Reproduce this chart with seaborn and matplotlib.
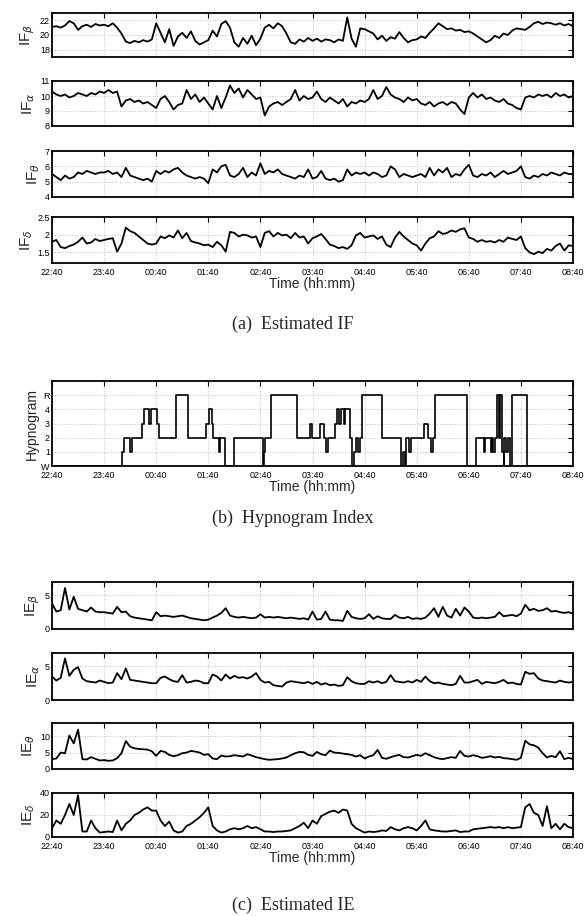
import numpy as np
import pandas as pd
import matplotlib
matplotlib.use("Agg")
import matplotlib.pyplot as plt
import seaborn as sns

# ---------------- data ----------------
time_labels = ["22:40", "23:40", "00:40", "01:40", "02:40", "03:40",
               "04:40", "05:40", "06:40", "07:40", "08:40"]
sample_step_min = 5  # one value every 5 minutes, 22:40 -> 08:40

if_beta = [21.1, 21.2, 21.0, 21.3, 21.9, 21.6, 20.7, 21.2, 21.4, 21.1, 21.5, 21.3,
           21.4, 21.2, 21.6, 21.0, 20.2, 19.1, 18.9, 19.2, 19.0, 19.3, 19.1, 19.4,
           21.6, 20.3, 19.0, 20.8, 18.5, 19.8, 20.3, 19.6, 20.5, 19.2, 18.7, 19.0,
           19.3, 20.6, 19.8, 21.5, 21.9, 21.0, 19.0, 18.4, 19.6, 18.8, 19.9, 18.6,
           19.5, 21.0, 21.4, 20.9, 21.6, 21.2, 20.2, 19.0, 18.8, 19.4, 19.1, 19.6,
           19.2, 19.5, 19.1, 19.4, 19.3, 19.0, 19.4, 19.2, 22.4, 19.5, 18.4, 20.9,
           20.8, 20.5, 20.2, 19.4, 19.9, 19.2, 19.7, 19.5, 20.4, 19.6, 19.0, 19.3,
           19.4, 19.8, 19.6, 20.3, 20.9, 21.6, 21.2, 20.8, 20.9, 20.6, 20.7, 20.4,
           20.5, 20.2, 19.8, 19.4, 19.0, 19.3, 19.9, 19.6, 20.2, 20.0, 20.6, 20.9,
           20.8, 20.7, 21.1, 21.6, 21.8, 21.5, 21.7, 21.6, 21.4, 21.6, 21.3, 21.5,
           21.2]

if_alpha = [10.3, 10.1, 10.0, 10.1, 9.9, 10.0, 10.2, 10.1, 10.0, 10.2, 10.1, 10.3,
            10.2, 10.4, 10.2, 10.3, 9.3, 9.7, 9.8, 9.6, 9.7, 9.5, 9.6, 9.4,
            9.2, 9.8, 10.0, 9.6, 9.1, 9.4, 9.5, 10.4, 9.8, 10.1, 9.6, 9.9,
            9.5, 9.1, 10.0, 9.2, 9.9, 10.7, 10.2, 10.5, 9.9, 10.4, 10.1, 9.8,
            9.9, 8.7, 9.3, 9.5, 9.6, 9.4, 9.6, 9.8, 10.4, 9.7, 10.0, 9.8,
            9.9, 10.3, 9.8, 9.6, 9.9, 9.7, 9.5, 9.8, 9.3, 9.6, 9.5, 9.7,
            9.6, 9.8, 10.4, 9.8, 10.0, 10.6, 10.1, 9.9, 9.8, 9.6, 9.9, 9.7,
            9.8, 9.5, 9.4, 9.6, 9.3, 9.5, 9.6, 9.4, 9.6, 9.5, 9.1, 8.8,
            9.9, 10.2, 9.9, 10.1, 9.8, 9.9, 9.7, 9.6, 9.8, 9.5, 9.4, 9.2,
            9.1, 9.9, 10.0, 9.9, 10.1, 10.0, 10.1, 9.9, 10.2, 10.0, 10.1, 9.9,
            10.0]

if_theta = [5.5, 5.3, 5.1, 5.4, 5.2, 5.3, 5.6, 5.5, 5.7, 5.6, 5.5, 5.6,
            5.6, 5.7, 5.5, 5.6, 5.3, 5.9, 5.4, 5.3, 5.2, 5.1, 5.2, 5.0,
            5.7, 5.5, 5.7, 5.6, 5.8, 5.9, 5.6, 5.4, 5.3, 5.2, 5.3, 5.2,
            4.9, 5.8, 5.6, 6.0, 6.1, 5.4, 5.3, 5.5, 5.9, 5.3, 5.6, 5.4,
            6.2, 5.5, 5.7, 5.6, 5.8, 5.5, 5.4, 5.3, 5.2, 5.4, 5.3, 5.8,
            5.2, 5.3, 5.7, 5.2, 5.1, 5.2, 5.0, 5.1, 5.8, 5.4, 5.6, 5.5,
            5.6, 5.4, 5.6, 5.5, 5.3, 5.4, 6.0, 5.8, 5.3, 5.5, 5.4, 5.3,
            5.4, 5.5, 5.3, 5.9, 5.4, 5.8, 5.6, 5.9, 5.3, 5.5, 5.4, 5.8,
            6.1, 5.4, 5.3, 5.5, 5.4, 5.6, 5.3, 5.5, 5.7, 5.5, 5.6, 5.7,
            6.0, 5.3, 5.2, 5.4, 5.3, 5.5, 5.4, 5.6, 5.5, 5.4, 5.6, 5.5,
            5.5]

if_delta = [1.80, 1.85, 1.65, 1.62, 1.68, 1.72, 1.80, 1.92, 1.75, 1.78, 1.88, 1.82,
            1.85, 1.88, 1.90, 1.52, 1.75, 2.20, 2.10, 2.05, 1.95, 1.85, 1.75, 1.72,
            1.75, 1.95, 1.90, 1.98, 1.92, 2.12, 1.90, 2.05, 1.82, 1.78, 1.75, 1.70,
            1.72, 1.65, 1.80, 1.70, 1.52, 2.08, 2.05, 1.95, 2.00, 1.98, 1.92, 1.95,
            1.65, 2.05, 2.10, 1.95, 2.05, 1.98, 2.00, 1.90, 2.05, 1.92, 1.95, 1.75,
            1.90, 1.95, 2.02, 1.88, 1.72, 1.68, 1.62, 1.65, 1.60, 1.70, 1.98, 2.05,
            1.92, 1.95, 1.98, 1.88, 1.95, 1.72, 1.65, 1.92, 2.08, 1.95, 1.85, 1.75,
            1.70, 1.55, 1.75, 1.90, 1.95, 2.10, 2.02, 2.05, 2.12, 2.08, 2.15, 2.18,
            1.92, 1.88, 1.80, 1.85, 1.80, 1.82, 1.78, 1.85, 1.80, 1.92, 1.88, 1.85,
            1.95, 1.62, 1.50, 1.45, 1.52, 1.48, 1.60, 1.55, 1.68, 1.75, 1.55, 1.70,
            1.68]

ie_beta = [3.8, 2.6, 2.8, 6.1, 2.9, 4.8, 3.0, 2.8, 2.6, 3.2, 2.6, 2.5,
           2.5, 2.4, 2.3, 3.3, 2.5, 2.6, 1.9, 1.7, 1.6, 1.5, 1.4, 1.3,
           2.5, 1.9, 2.0, 1.9, 1.8, 1.9, 2.0, 1.8, 1.6, 1.5, 1.4, 1.3,
           1.4, 1.7, 2.0, 2.4, 3.1, 2.0, 1.8, 1.7, 1.8, 1.7, 1.6, 1.7,
           2.2, 1.7, 1.8, 1.7, 1.8, 1.7, 1.6, 1.7, 1.6, 1.5, 1.6, 1.4,
           2.6, 1.4, 1.5, 2.6, 1.4, 1.3, 1.3, 1.2, 2.7, 1.8, 1.6, 1.5,
           1.6, 2.2, 1.5, 1.9, 1.6, 1.5, 1.5, 2.1, 1.7, 1.6, 1.8, 1.5,
           1.6, 1.5, 1.7, 2.3, 3.1, 1.8, 3.3, 2.0, 1.7, 3.0, 2.0, 3.2,
           2.6, 1.7, 1.6, 1.7, 1.6, 1.7, 1.8, 2.5, 1.9, 2.0, 2.1, 1.9,
           2.3, 3.6, 2.8, 3.0, 2.7, 2.8, 3.1, 2.6, 2.7, 2.5, 2.4, 2.5,
           2.3]

ie_alpha = [3.5, 2.9, 3.3, 6.2, 3.6, 4.5, 4.9, 3.2, 2.8, 2.7, 2.6, 2.9,
            2.7, 2.5, 2.6, 4.0, 3.1, 4.7, 3.0, 2.9, 2.8, 2.7, 2.6, 2.5,
            2.5, 3.3, 3.5, 3.1, 2.8, 2.7, 3.7, 2.6, 2.7, 2.9, 2.8, 2.5,
            2.5, 3.8, 3.5, 2.9, 3.8, 3.2, 3.6, 3.3, 3.4, 3.2, 3.5, 4.0,
            3.0, 2.6, 2.7, 2.2, 2.1, 2.0, 2.6, 2.8, 2.7, 2.6, 2.5, 2.7,
            2.4, 2.7, 2.3, 2.5, 2.2, 2.3, 2.1, 2.2, 3.4, 2.8, 2.5, 2.4,
            2.4, 2.8, 2.6, 2.8, 2.5, 2.7, 3.7, 2.8, 2.7, 2.6, 2.8, 2.6,
            3.0, 2.7, 3.5, 2.8, 2.5, 2.6, 2.4, 2.3, 2.2, 2.4, 3.6, 2.6,
            2.6, 2.8, 3.0, 2.4, 2.7, 2.6, 2.5, 2.7, 3.0, 2.5, 2.6, 2.4,
            2.3, 4.2, 3.9, 4.0, 3.2, 2.9, 2.8, 2.7, 2.6, 2.9, 2.7, 2.6,
            2.7]

ie_theta = [3.0, 3.2, 5.0, 4.8, 10.2, 7.8, 12.0, 3.0, 2.9, 3.6, 3.1, 2.6,
            2.7, 2.5, 2.6, 3.3, 4.8, 8.5, 6.8, 6.3, 6.1, 6.0, 5.9, 5.4,
            4.0, 5.5, 5.2, 4.3, 3.9, 4.2, 4.8, 5.0, 5.5, 5.3, 5.0, 4.3,
            4.5, 3.2, 3.0, 4.1, 3.8, 3.9, 4.2, 4.0, 3.8, 4.5, 4.1, 3.6,
            3.3, 3.0, 2.8, 2.9, 3.0, 3.2, 3.5, 4.2, 4.8, 5.2, 5.1, 4.3,
            4.0, 5.2, 4.5, 4.2, 5.6, 5.0, 4.9, 4.7, 4.5, 4.3, 3.8, 4.2,
            3.2, 3.8, 4.2, 5.8, 3.4, 3.1, 3.6, 4.0, 4.3, 3.6, 3.5, 3.9,
            4.3, 4.0, 4.8, 4.2, 3.6, 3.2, 3.0, 3.3, 3.6, 3.4, 5.5, 4.0,
            3.8, 4.2, 3.9, 3.4, 3.6, 3.9, 3.5, 3.7, 3.3, 3.2, 3.0, 2.8,
            3.4, 8.6, 7.5, 7.2, 6.5, 4.8, 3.5, 4.0, 3.6, 5.4, 3.0, 3.4,
            3.0]

ie_delta = [8, 15, 12, 20, 30, 20, 38, 5, 5, 15, 8, 4,
            4.5, 5, 4.5, 15, 6, 12, 15, 20, 22, 25, 27, 24,
            24, 15, 10, 14, 6, 4, 5, 10, 12, 15, 18, 22,
            27, 10, 6, 4, 5, 7, 8, 7, 8, 10, 8, 9,
            7, 5, 5, 4.5, 5, 5, 5.5, 6, 8, 10, 13, 8,
            15, 12, 19, 21, 23, 24, 22, 25, 24, 12, 8, 6,
            4, 5, 4.5, 5, 6, 5.5, 9, 7, 6, 8, 9, 8,
            6, 10, 15, 7, 6, 5.5, 5, 5, 5.5, 6, 4.5, 5,
            5, 7, 7.5, 8, 8.5, 9, 8.5, 9, 8, 9, 8, 8.5,
            9, 27, 30, 22, 20, 10, 28, 8, 12, 7, 12, 9,
            8]

# hypnogram: minute (from 22:40) at which a stage starts, and that stage (0=W,...,5=R)
hyp_change_min = [0, 81, 83, 90, 92, 104, 106, 112, 114, 121, 123, 143, 157, 177, 181,
                  184, 185, 192, 194, 199, 210, 243, 244, 245, 252, 282, 297, 299, 309,
                  313, 316, 318, 326, 328, 331, 333, 336, 338, 343, 345, 348, 350, 352,
                  355, 357, 380, 402, 404, 406, 408, 411, 413, 428, 433, 437, 439, 441,
                  478, 488, 497, 499, 505, 507, 508, 510, 513, 515, 516, 518, 520, 521,
                  523, 525, 527, 530, 547, 600]
hyp_stage = [0, 1, 2, 1, 2, 3, 4, 3, 4, 3, 2, 5, 2, 3, 4,
             3, 2, 1, 2, 0, 2, 0, 1, 2, 5, 2, 3, 2, 3,
             2, 1, 2, 3, 4, 3, 4, 3, 4, 2, 0, 1, 2, 1,
             2, 5, 2, 0, 1, 0, 2, 1, 2, 3, 2, 1, 2, 5,
             0, 2, 1, 2, 1, 2, 1, 2, 5, 2, 5, 1, 0, 2,
             1, 2, 0, 5, 0, 0]
hyp_tick_labels = ["W", "1", "2", "3", "4", "R"]

# ---------------- style ----------------
sns.set_theme(style="white")
plt.rcParams["font.family"] = ["Liberation Sans", "DejaVu Sans"]
plt.rcParams["mathtext.fontset"] = "custom"
plt.rcParams["mathtext.rm"] = "Liberation Sans"
plt.rcParams["mathtext.it"] = "DejaVu Sans:italic"

fig = plt.figure(figsize=(5.86, 9.16), dpi=100)
W, H = 586.0, 916.0
x0, x1 = 52, 573


def make_ax(top, bottom):
    return fig.add_axes([x0 / W, 1 - bottom / H, (x1 - x0) / W, (bottom - top) / H])


minutes = np.arange(len(if_beta)) * sample_step_min
xt = np.arange(0, 601, 60)


def style_ax(ax, ylim, yticks, yticklabels=None, show_x=False):
    ax.set_xlim(0, 600)
    ax.set_ylim(*ylim)
    ax.set_xticks(xt)
    ax.set_yticks(yticks)
    if yticklabels is not None:
        ax.set_yticklabels(yticklabels)
    if show_x:
        ax.set_xticklabels(time_labels)
    else:
        ax.set_xticklabels([])
    ax.grid(True, linestyle=(0, (1, 2)), color="#b0b0b0", linewidth=0.6)
    ax.tick_params(direction="in", length=3.5, width=0.8, top=True, right=True,
                   labelsize=6.5, colors="black")
    ax.tick_params(axis="y", pad=1.5)
    ax.tick_params(axis="x", pad=3.5)
    for s in ax.spines.values():
        s.set_color("black")
        s.set_linewidth(1.3)
    ax.set_xlabel("")


def series_panel(top, bottom, vals, label, ylim, yticks, show_x=False):
    ax = make_ax(top, bottom)
    df = pd.DataFrame({"minute": minutes, "value": vals})
    sns.lineplot(data=df, x="minute", y="value", ax=ax, color="black", linewidth=1.3)
    style_ax(ax, ylim, yticks, show_x=show_x)
    ax.set_ylabel(label, fontsize=11, labelpad=2)
    return ax


# IF panels
series_panel(13, 57, if_beta, r"IF$_{\beta}$", (17, 23), [18, 20, 22])
series_panel(81, 126, if_alpha, r"IF$_{\alpha}$", (8, 11), [8, 9, 10, 11])
series_panel(151, 197, if_theta, r"IF$_{\theta}$", (4, 7), [4, 5, 6, 7])
ax = series_panel(217, 263, if_delta, r"IF$_{\delta}$", (1.2, 2.5), [1.5, 2, 2.5], show_x=True)
ax.set_yticklabels(["1.5", "2", "2.5"])
ax.set_xlabel("Time (hh:mm)", fontsize=10, labelpad=0)

fig.text(0.5, 1 - 324 / H, "(a)  Estimated IF", ha="center", va="center",
         fontsize=13, family="Liberation Serif")

# Hypnogram
axh = make_ax(381, 466)
dfh = pd.DataFrame({"minute": hyp_change_min, "stage": hyp_stage})
sns.lineplot(data=dfh, x="minute", y="stage", ax=axh, color="black", linewidth=1.2,
             drawstyle="steps-post", estimator=None, sort=False)
style_ax(axh, (0, 6), [0, 1, 2, 3, 4, 5], hyp_tick_labels, show_x=True)
axh.set_ylabel("Hypnogram", fontsize=10, labelpad=2)
axh.set_xlabel("Time (hh:mm)", fontsize=10, labelpad=0)

fig.text(0.5, 1 - 518 / H, "(b)  Hypnogram Index", ha="center", va="center",
         fontsize=13, family="Liberation Serif")

# IE panels
series_panel(582, 629, ie_beta, r"IE$_{\beta}$", (0, 7), [0, 5])
series_panel(653, 700, ie_alpha, r"IE$_{\alpha}$", (0, 7), [0, 5])
series_panel(723, 769, ie_theta, r"IE$_{\theta}$", (0, 14), [0, 5, 10])
ax = series_panel(793, 837, ie_delta, r"IE$_{\delta}$", (0, 40), [0, 20, 40], show_x=True)
ax.set_xlabel("Time (hh:mm)", fontsize=10, labelpad=0)

fig.text(0.5, 1 - 905 / H, "(c)  Estimated IE", ha="center", va="center",
         fontsize=13, family="Liberation Serif")

fig.savefig("out.png", dpi=100, facecolor="white")
